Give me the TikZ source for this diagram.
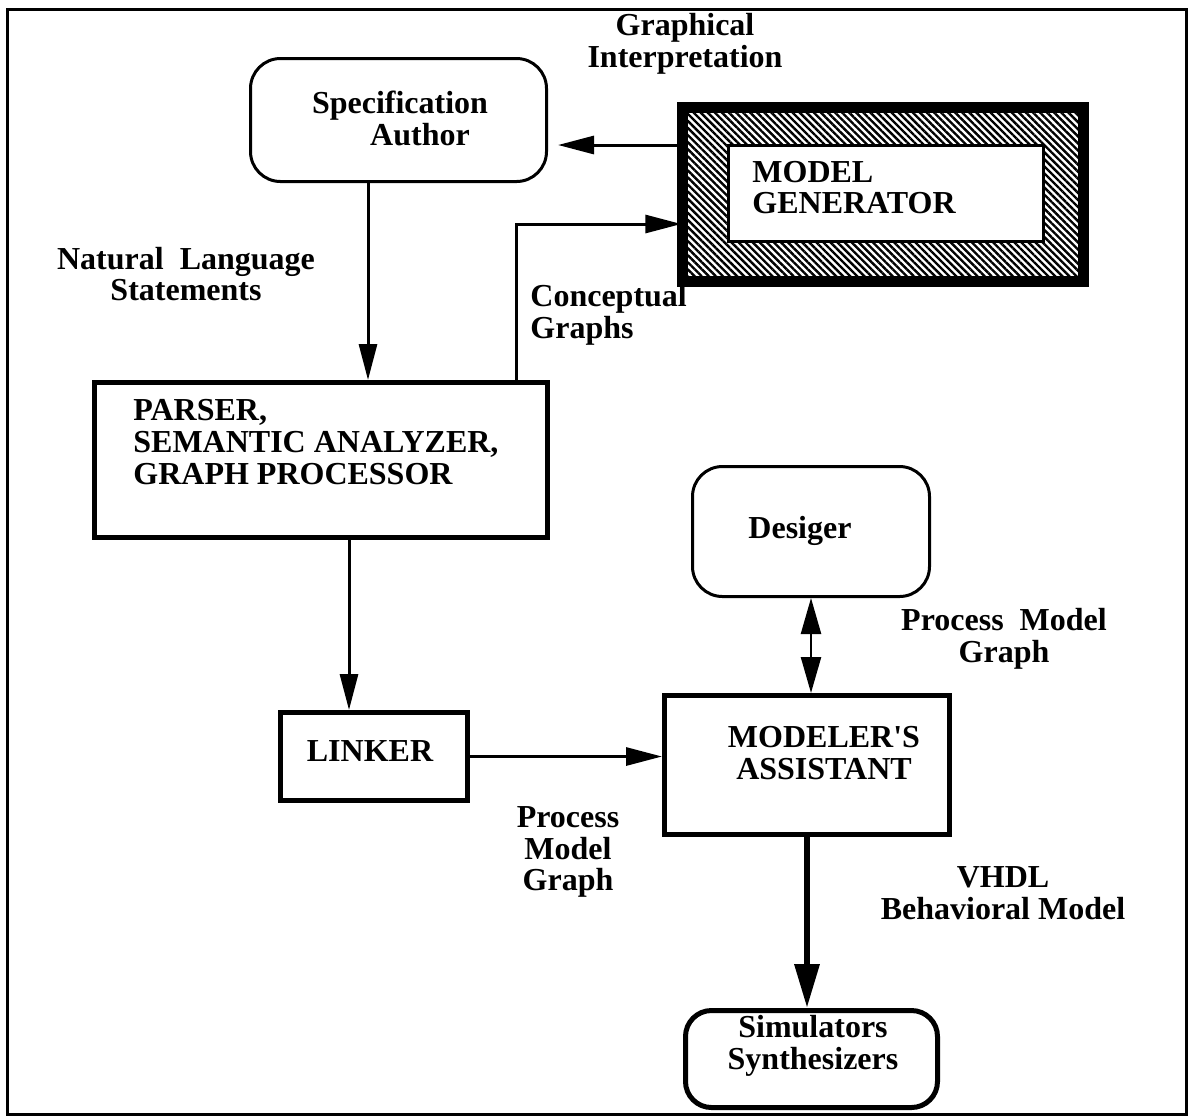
\documentclass[tikz,border=0pt]{standalone}
\usepackage{fontspec}
\setmainfont{Liberation Serif}
\usetikzlibrary{arrows.meta,patterns.meta}
\tikzset{
  txt/.style={font=\bfseries\fontsize{16}{15.8}\selectfont,align=center,inner sep=0pt},
  box/.style={draw,line width=2.5pt,inner sep=0pt},
  rbox/.style={draw,line width=1.5pt,rounded corners=15pt,inner sep=0pt},
  flow/.style={line width=1.5pt,-{Triangle[length=18pt,width=9pt]}},
  bigflow/.style={line width=3.2pt,-{Triangle[length=22pt,width=12pt]}},
}

\begin{document}
\begin{tikzpicture}[x=0.5pt,y=-0.5pt]
\path[use as bounding box] (0,0) rectangle (1189,1116);
\draw[line width=1.5pt] (7,9) rectangle (1186.5,1114);
\node[rbox,minimum width=148pt,minimum height=61.5pt] (author) at (398.5,120) {};
\node[box,line width=5.5pt,minimum width=200.5pt,minimum height=87pt,
  pattern={Lines[angle=-45,distance=2.5pt,line width=1.2pt]}] (mgen) at (883,194.5) {};
\node[box,line width=1.5pt,fill=white,minimum width=157.5pt,minimum height=48pt] (mgin) at (886,193.5) {};
\node[box,minimum width=226.5pt,minimum height=77.5pt] (parser) at (321,460) {};
\node[box,minimum width=93.5pt,minimum height=44pt] (linker) at (374,756.5) {};
\node[rbox,minimum width=118.5pt,minimum height=65pt] (desiger) at (811,531.5) {};
\node[box,minimum width=142.5pt,minimum height=69.5pt] (assist) at (807,765) {};
\node[rbox,line width=2.5pt,rounded corners=13pt,minimum width=126pt,minimum height=48.5pt] (simul) at (811.5,1059) {};
\node[txt] (authtxt) at (400,118.5) {Specification\\\hspace*{20pt}Author};
\node[txt,anchor=west,align=left] (mgtxt) at (752,187.5) {MODEL\\GENERATOR};
\node[txt,anchor=west,align=left] (parsetxt) at (133,442) {PARSER,\\SEMANTIC ANALYZER,\\GRAPH PROCESSOR};
\node[txt] (linktxt) at (370,751) {LINKER};
\node[txt] (destxt) at (800,531) {Desiger};
\node[txt] (assisttxt) at (824,753) {MODELER\textquotesingle S\\ASSISTANT};
\node[txt] (simtxt) at (813,1046) {Simulators\\Synthesizers};
\node[txt] (graphint) at (685,44) {Graphical\\Interpretation};
\node[txt] (natlang) at (186,274) {Natural\ \ Language\\Statements};
\node[txt,anchor=west,align=left] (concgr) at (530,315) {Conceptual\\Graphs};
\node[txt] (pmglink) at (568,852) {Process\\Model\\Graph};
\node[txt] (pmgdes) at (1004,639) {Process\ \ Model\\Graph};
\node[txt] (vhdl) at (1003,893) {VHDL\\Behavioral Model};
\coordinate (ga) at (0,145);
\coordinate (cg) at (516,224);
\coordinate (nl) at (368,0);
\coordinate (pl) at (349,0);
\draw[flow,shorten >=5pt] (ga -| mgen.west) -- (ga -| author.east);
\draw[flow] (cg |- parser.north) -- (cg) -- (cg -| mgen.west);
\draw[flow] (nl |- author.south) -- (nl |- parser.north);
\draw[flow] (pl |- parser.south) -- (pl |- linker.north);
\draw[flow] (linker.east) -- (linker.east -| assist.west);
\draw[line width=1.2pt,{Triangle[length=18pt,width=10pt]}-{Triangle[length=18pt,width=10pt]}] (desiger.south) -- (desiger.south |- assist.north);
\draw[bigflow] (assist.south) -- (assist.south |- simul.north);
\end{tikzpicture}
\end{document}
